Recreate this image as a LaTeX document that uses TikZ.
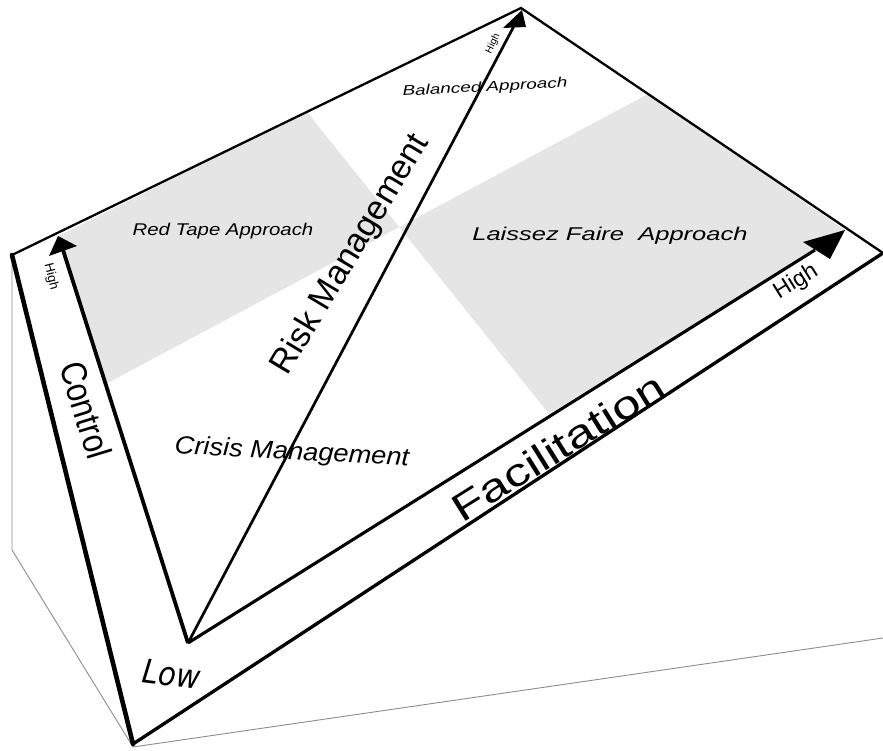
\documentclass[tikz,border=0pt]{standalone}
\usepackage{fontspec}
\usepackage{graphicx}
\setmainfont{Liberation Sans}
\newfontfamily\lowfont{DejaVu Sans}
\usetikzlibrary{calc}
\begin{document}
\begin{tikzpicture}[x=1pt,y=-1pt,
  shadearea/.style={fill=black!10},
  baseedge/.style={draw=black!45,line width=0.9pt},
  frameedge/.style={draw=black,line join=miter,line cap=round},
  axisline/.style={draw=black,line join=miter},
  headfill/.style={fill=black},
  lab/.style={inner sep=0pt,text=black},
]
\useasboundingbox (0,0) rectangle (883,751);
% frame corners
\coordinate (TL) at (12,255);
\coordinate (A) at (521,8);
\coordinate (R) at (883,253);
\coordinate (BL) at (133,744);
\coordinate (TLb) at (12,550);
\coordinate (BLb) at (133,747);
\coordinate (Rb) at (883,638);
% axes
\coordinate (O) at (188,643);
\coordinate (CT) at (58,236);
\coordinate (CB) at (63,250);
\coordinate (FT) at (845,230);
\coordinate (FB) at (815,250);
\coordinate (RT) at (522,10);
\coordinate (RB) at (514,26);
% quadrant division points
\coordinate (P1) at (307,112);
\coordinate (P2) at (549,414);
\coordinate (P3) at (104,385);
\coordinate (P4) at (648,94);
\coordinate (C) at (intersection of P1--P2 and P3--P4);

% shaded quadrants
\fill[shadearea] (P3) -- (CT) -- (P1) -- (C) -- cycle;
\fill[shadearea] (C) -- (P4) -- (FT) -- (P2) -- cycle;

% base (3D) lines
\draw[baseedge] (TL) -- (TLb) -- (BLb) -- (Rb);

% frame
\draw[frameedge,line width=2.3pt] (TL) -- (A) -- (R);
\draw[frameedge,line width=3.3pt] (R) -- (BL);
\draw[frameedge,line width=4.6pt] (BL) -- (TL);

% axes
\draw[axisline,line width=3.8pt] (CB) -- (O);
\draw[axisline,line width=3.1pt] (O) -- (FB);
\draw[axisline,line width=2.7pt] (O) -- (RB);
\fill[headfill] (CT) -- (77,246) -- (49,256) -- cycle;
\fill[headfill] (FT) -- (803,242) -- (830,259) -- cycle;
\fill[headfill] (RT) -- (526,27) -- (503,28) -- cycle;

% axis labels
\node[lab,rotate=-73] (ctl) at (86,410) {\fontsize{36}{36}\selectfont\scalebox{0.86}[1]{Control}};
\node[lab,rotate=-76] (chigh) at (51,277) {\fontsize{13}{13}\selectfont High};
\node[lab,rotate=59] (risk) at (351,255) {\fontsize{34}{34}\selectfont Risk Management};
\node[lab,rotate=64] (rhigh) at (493,44) {\fontsize{10}{10}\selectfont High};
\node[lab,rotate=32] (fac) at (558,447) {\fontsize{39}{39}\selectfont\scalebox{1.3}[1]{Facilitation}};
\node[lab,rotate=32] (fhigh) at (796,282) {\fontsize{23}{23}\selectfont High};
\node[lab,rotate=-7] (low) at (172,674) {\fontsize{33}{33}\selectfont\lowfont\itshape\scalebox{0.88}[1]{Low}};

% quadrant labels
\node[lab] (red) at (223,231) {\fontsize{17}{17}\selectfont\itshape\scalebox{1.2}[1]{Red Tape Approach}};
\node[lab,rotate=3] (bal) at (485,88) {\fontsize{14}{14}\selectfont\itshape\scalebox{1.35}[1]{Balanced Approach}};
\node[lab] (lf) at (610,236) {\fontsize{18.5}{18.5}\selectfont\itshape\scalebox{1.38}[1]{Laissez Faire\ \ Approach}};
\node[lab,rotate=-3] (crisis) at (292,453) {\fontsize{25}{25}\selectfont\itshape\scalebox{1.09}[1]{Crisis Management}};
\end{tikzpicture}
\end{document}
